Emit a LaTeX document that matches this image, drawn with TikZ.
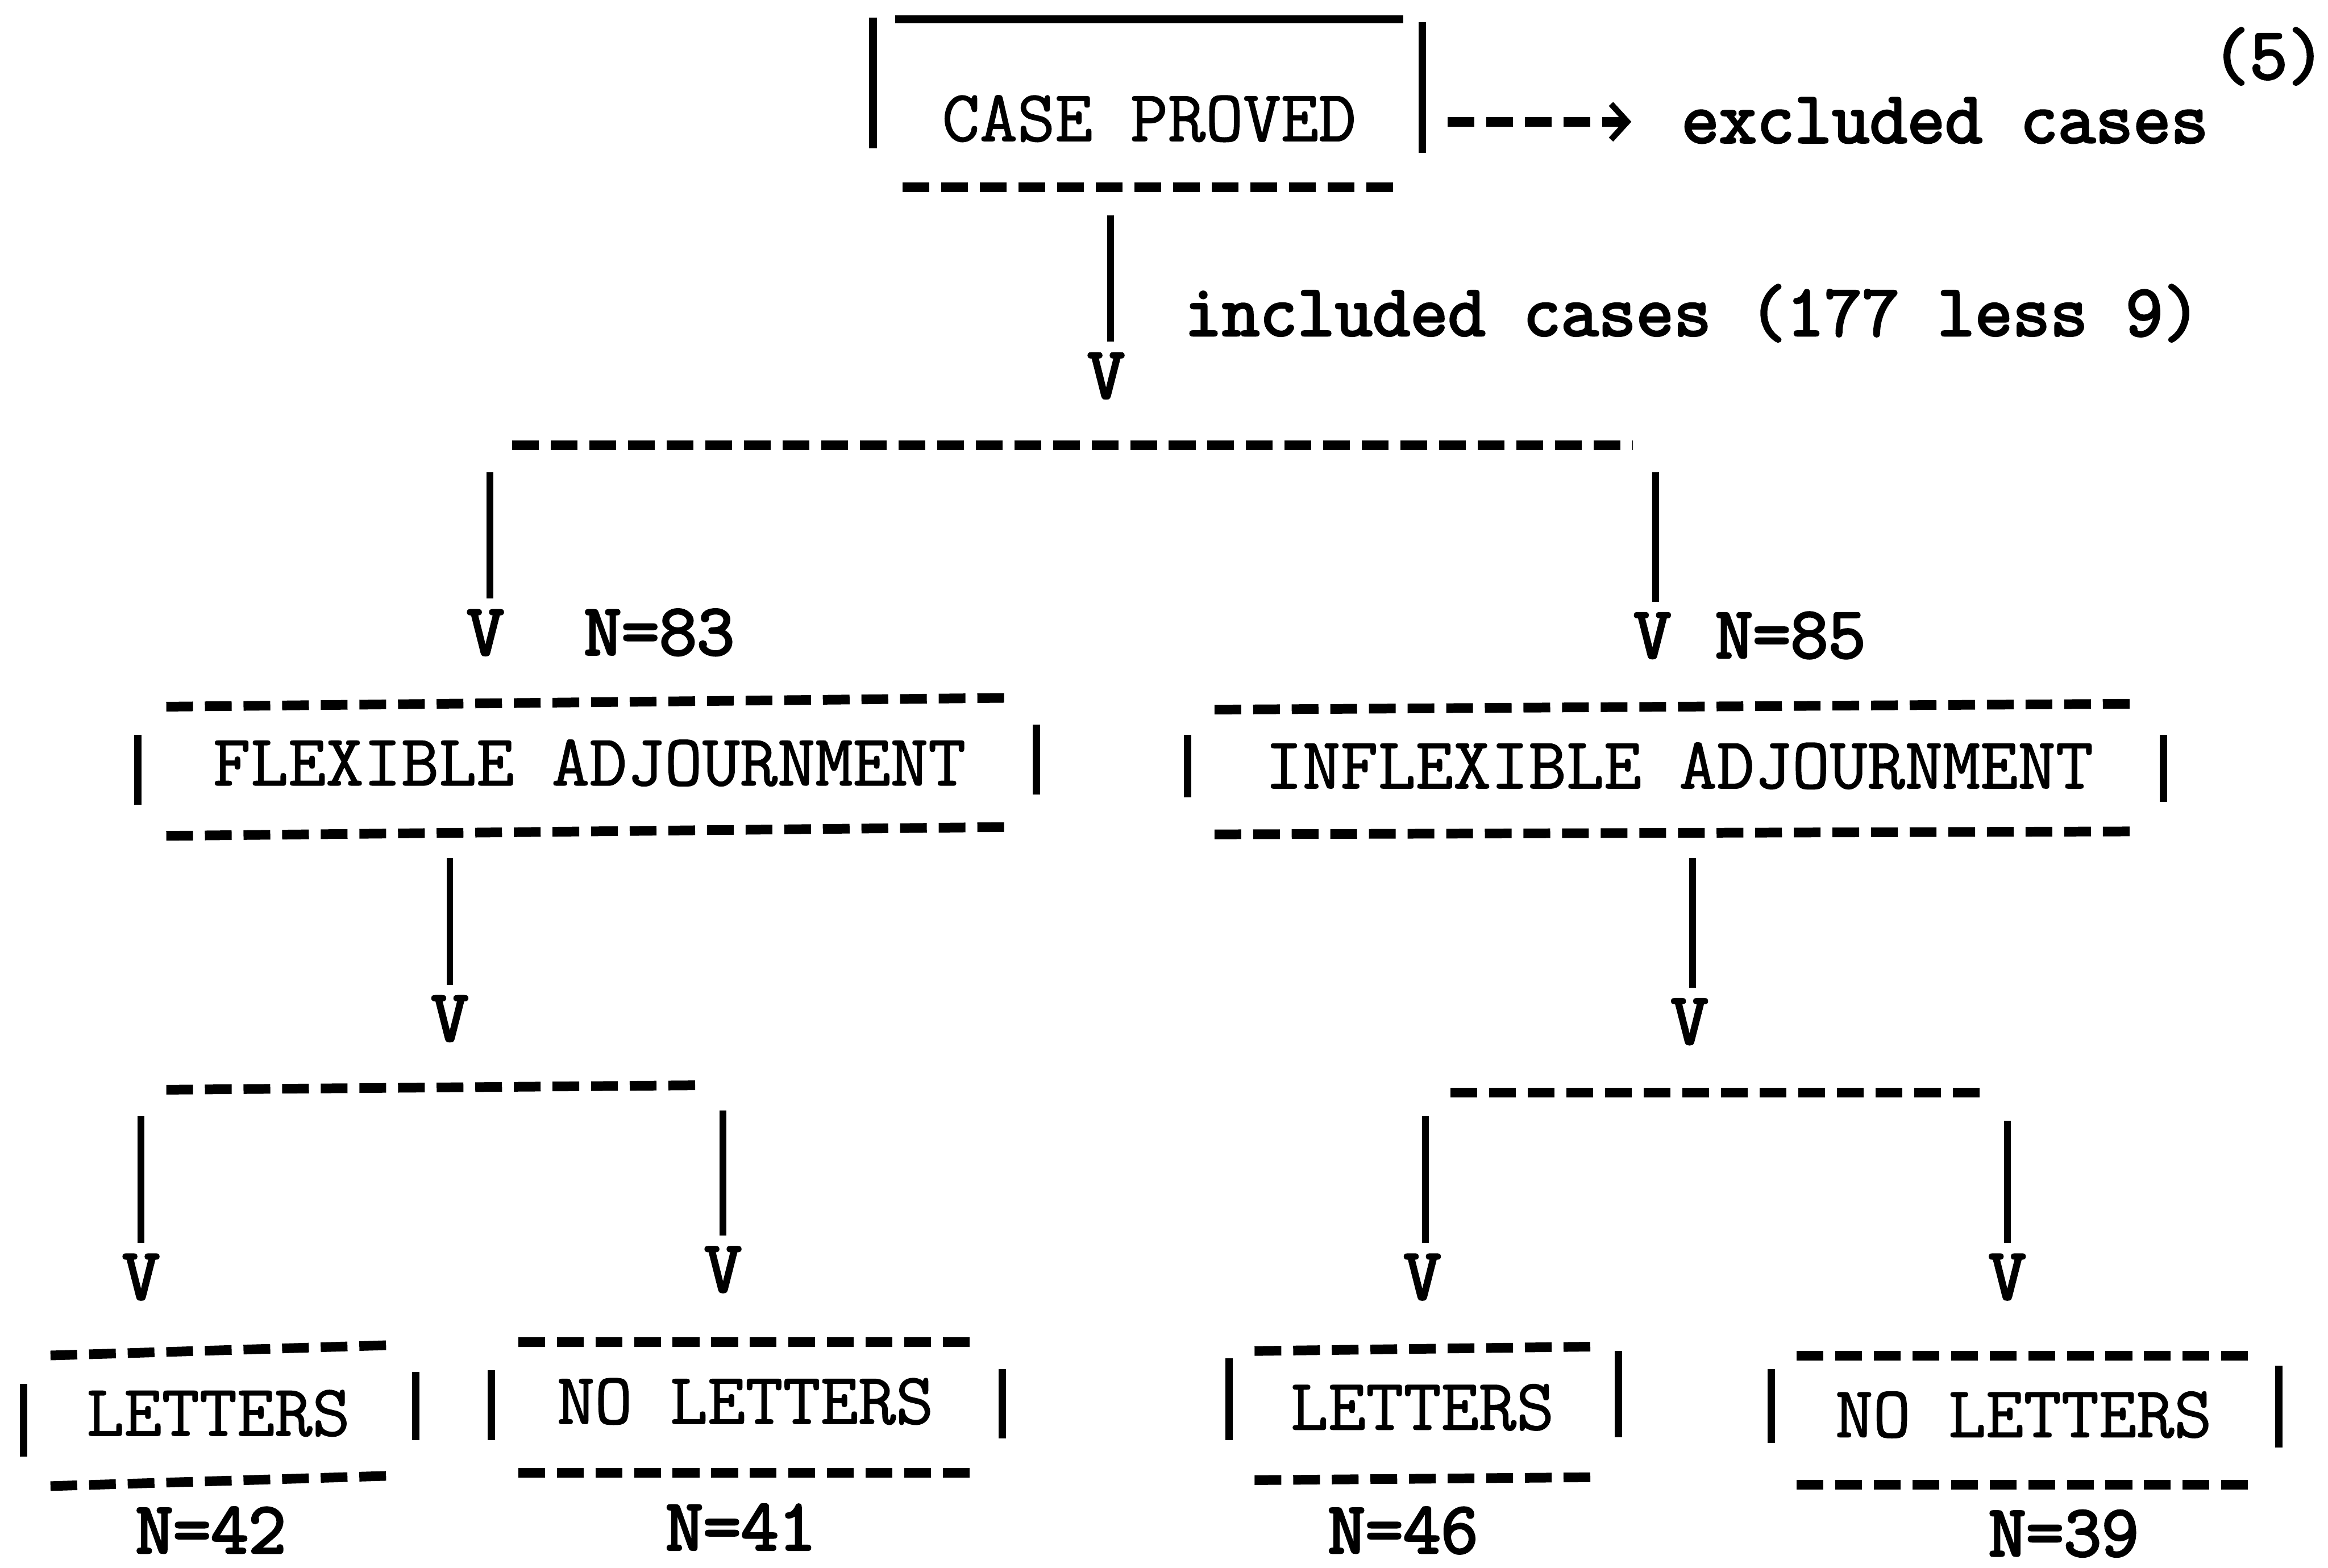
\documentclass[tikz,border=0pt]{standalone}
\usepackage{fontspec}
\newfontfamily\twr{Latin Modern Mono}[FakeBold=1.2]
\newfontfamily\twb{Latin Modern Mono}[FakeBold=3]
\usetikzlibrary{arrows.meta}
\begin{document}
\begin{tikzpicture}[x=0.01cm,y=-0.01cm,
  lbl/.style={inner sep=0pt, anchor=base, font=\twr\fontsize{14}{16}\selectfont},
  blbl/.style={inner sep=0pt, anchor=base, font=\twb\fontsize{14}{16}\selectfont},
  tdash/.style={line width=0.065cm, dash pattern=on 0.18cm off 0.08cm},
  bar/.style={line width=0.05cm},
  conn/.style={line width=0.045cm, shorten >=0.07cm},
]
\useasboundingbox (0,0) rectangle (1568,1056);

% top box
\node[lbl] (cp) at (774,95) {CASE PROVED};
\draw[line width=0.055cm] (603,13) -- (945,13);
\draw[bar] (588,12) -- (588,100);
\draw[bar] (958,15) -- (958,103);
\draw[tdash] (608,126) -- (942,126);

\node[blbl] (excl) at (1310,96) {excluded cases};
\node[blbl] (five) at (1528,53) {(5)};
\coordinate (arrS) at (975,82);
\draw[tdash, -{Straight Barb[length=0.11cm,width=0.24cm,line width=0.04cm]}, shorten >=0.33cm] (arrS) -- (arrS -| excl.west);

% included
\node[blbl] (incl) at (1140,226) {included cases (177 less 9)};
\node[blbl] (v0) at (745,268) {V};
\coordinate (c0) at (748,145);
\draw[conn] (c0) -- (c0 |- v0.north);

\draw[tdash] (345,300) -- (1100,300);

\node[blbl] (v1) at (327,441) {V};
\node[blbl] (n83) at (444,441) {N=83};
\coordinate (c1) at (330,318);
\draw[conn] (c1) -- (c1 |- v1.north);
\node[blbl] (v2) at (1113,443) {V};
\node[blbl] (n85) at (1206,443) {N=85};
\coordinate (c2) at (1115,318);
\draw[conn] (c2) -- (c2 |- v2.north);

% flexible box
\node[lbl] (flex) at (397,529) {FLEXIBLE ADJOURNMENT};
\draw[tdash] (112,476) -- (683,470);
\draw[tdash] (112,563) -- (683,557);
\draw[bar] (93,495) -- (93,542);
\draw[bar] (698,488) -- (698,535);

% inflexible box
\node[lbl] (inflex) at (1131,531) {INFLEXIBLE ADJOURNMENT};
\draw[tdash] (818,478) -- (1440,474);
\draw[tdash] (818,562) -- (1440,560);
\draw[bar] (800,495) -- (800,537);
\draw[bar] (1457,495) -- (1457,540);

% down from boxes
\node[blbl] (v3) at (303,701) {V};
\coordinate (c3) at (303,578);
\draw[conn] (c3) -- (c3 |- v3.north);
\node[blbl] (v4) at (1138,703) {V};
\coordinate (c4) at (1140,578);
\draw[conn] (c4) -- (c4 |- v4.north);

\draw[tdash] (112,734) -- (470,731);
\draw[tdash] (977,736) -- (1335,736);

\node[blbl] (v5) at (95,875) {V};
\coordinate (c5) at (95,752);
\draw[conn] (c5) -- (c5 |- v5.north);
\node[blbl] (v6) at (487,870) {V};
\coordinate (c6) at (487,748);
\draw[conn] (c6) -- (c6 |- v6.north);
\node[blbl] (v7) at (958,875) {V};
\coordinate (c7) at (960,752);
\draw[conn] (c7) -- (c7 |- v7.north);
\node[blbl] (v8) at (1352,875) {V};
\coordinate (c8) at (1352,755);
\draw[conn] (c8) -- (c8 |- v8.north);

% bottom boxes
\node[lbl] (let1) at (147,967) {LETTERS};
\draw[tdash] (34,913) -- (264,906);
\draw[tdash] (34,1001) -- (264,994);
\draw[bar] (16,932) -- (16,981);
\draw[bar] (280,924) -- (280,970);
\node[blbl] (n42) at (142,1046) {N=42};

\node[lbl] (nolet1) at (502,959) {NO LETTERS};
\draw[tdash] (349,904) -- (658,904);
\draw[tdash] (349,992) -- (658,992);
\draw[bar] (331,923) -- (331,970);
\draw[bar] (675,922) -- (675,969);
\node[blbl] (n41) at (499,1044) {N=41};

\node[lbl] (let2) at (958,963) {LETTERS};
\draw[tdash] (845,910) -- (1075,907);
\draw[tdash] (845,997) -- (1075,995);
\draw[bar] (828,915) -- (828,970);
\draw[bar] (1090,910) -- (1090,968);
\node[blbl] (n46) at (945,1046) {N=46};

\node[lbl] (nolet2) at (1363,968) {NO LETTERS};
\draw[tdash] (1210,913) -- (1518,913);
\draw[tdash] (1210,1000) -- (1518,1000);
\draw[bar] (1193,922) -- (1193,972);
\draw[bar] (1535,920) -- (1535,975);
\node[blbl] (n39) at (1390,1048) {N=39};
\end{tikzpicture}
\end{document}
